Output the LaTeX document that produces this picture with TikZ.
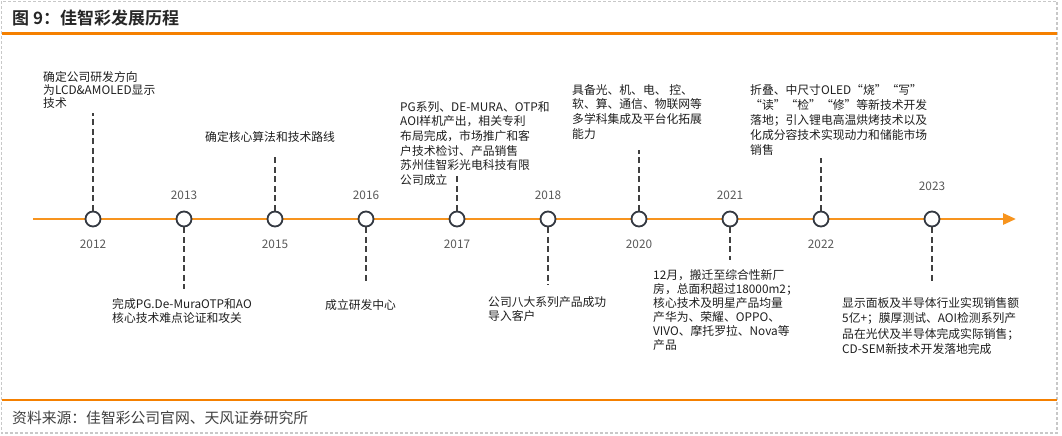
\documentclass[tikz,border=0pt]{standalone}
\usepackage{fontspec}
\setmainfont{Noto Sans CJK SC}[BoldFont=* Bold]
\usepackage{tikz}
\usetikzlibrary{positioning,arrows.meta}
\definecolor{tforange}{RGB}{245,128,0}
\definecolor{lineorange}{RGB}{247,148,30}
\definecolor{dashgray}{RGB}{64,64,64}
\definecolor{ringgray}{RGB}{52,57,66}
\definecolor{yeargray}{RGB}{89,89,89}
\definecolor{txtgray}{RGB}{30,30,30}
\definecolor{framegray}{RGB}{200,200,200}

\begin{document}
\begin{tikzpicture}[x=1pt,y=-1pt,on grid,
    milestone/.style={circle,draw=ringgray,line width=1.8pt,fill=white,minimum size=15pt,inner sep=0pt},
    yearlbl/.style={text=yeargray,font=\fontsize{11.8}{13}\selectfont,inner sep=0pt},
    event/.style={anchor=north west,align=left,inner sep=0pt,text=txtgray,font=\fontsize{11.8}{14.7}\selectfont},
    conn/.style={draw=dashgray,line width=1.8pt,dash pattern=on 6pt off 3.5pt}]
  \useasboundingbox (0,0) rectangle (1062,436);
  \draw[framegray,line width=1.2pt,dash pattern=on 3pt off 2pt] (1.5,1.5) rectangle (1057,433);

  % title and rules
  \node[anchor=west,inner sep=0pt,font=\fontsize{17}{19}\bfseries\selectfont,text=black!85] (title) at (12,18) {图 9：佳智彩发展历程};
  \draw[tforange,line width=2.7pt] (2,33.5) -- (1057,33.5);
  \draw[tforange,line width=2pt] (2,400) -- (1057,400);
  \node[anchor=west,inner sep=0pt,font=\fontsize{14.8}{16}\selectfont,text=black!75] (source) at (12,418) {资料来源：佳智彩公司官网、天风证券研究所};

  % timeline
  \coordinate (tl_start) at (33,219);
  \coordinate (tl_end) at (1016,219);
  \draw[lineorange,line width=2.8pt,-{Triangle[length=13pt,width=11pt]}] (tl_start) -- (tl_end);

  \node[milestone] (c_12) at (93,219) {};
  \node[milestone] (c_13) at (184,219) {};
  \node[milestone] (c_15) at (275,219) {};
  \node[milestone] (c_16) at (366,219) {};
  \node[milestone] (c_17) at (457,219) {};
  \node[milestone] (c_18) at (548,219) {};
  \node[milestone] (c_20) at (639,219) {};
  \node[milestone] (c_21) at (730,219) {};
  \node[milestone] (c_22) at (821,219) {};
  \node[milestone] (c_23) at (932,219) {};

  \node[yearlbl,below=25pt of c_12] (y_12) {2012};
  \node[yearlbl,above=24pt of c_13] (y_13) {2013};
  \node[yearlbl,below=25pt of c_15] (y_15) {2015};
  \node[yearlbl,above=24pt of c_16] (y_16) {2016};
  \node[yearlbl,below=25pt of c_17] (y_17) {2017};
  \node[yearlbl,above=24pt of c_18] (y_18) {2018};
  \node[yearlbl,below=25pt of c_20] (y_20) {2020};
  \node[yearlbl,above=24pt of c_21] (y_21) {2021};
  \node[yearlbl,below=25pt of c_22] (y_22) {2022};
  \node[yearlbl,above=33pt of c_23] (y_23) {2023};

  % events
  \node[event,font=\fontsize{11.8}{13}\selectfont] (t_12) at (43,71) {确定公司研发方向\\为LCD\&AMOLED显示\\技术};
  \node[event] (t_13) at (112,298) {完成PG.De-MuraOTP和AO\\核心技术难点论证和攻关};
  \node[event] (t_15) at (205,131) {确定核心算法和技术路线};
  \node[event] (t_16) at (325,299) {成立研发中心};
  \node[event] (t_17) at (400,101) {PG系列、DE-MURA、OTP和\\AOI样机产出，相关专利\\布局完成，市场推广和客\\户技术检讨、产品销售\\苏州佳智彩光电科技有限\\公司成立};
  \node[event] (t_18) at (488,296) {公司八大系列产品成功\\导入客户};
  \node[event] (t_20) at (572,84) {具备光、机、电、 控、\\软、算、通信、物联网等\\多学科集成及平台化拓展\\能力};
  \node[event,font=\fontsize{11.8}{14}\selectfont] (t_21) at (653,269) {12月，搬迁至综合性新厂\\房，总面积超过18000m2；\\核心技术及明星产品均量\\产华为、荣耀、OPPO、\\VIVO、摩托罗拉、Nova等\\产品};
  \node[event,font=\fontsize{11.8}{15}\selectfont] (t_22) at (750,84) {折叠、中尺寸OLED“烧”“写”\\“读”“检”“修”等新技术开发\\落地；引入锂电高温烘烤技术以及\\化成分容技术实现动力和储能市场\\销售};
  \node[event,font=\fontsize{11.8}{15.5}\selectfont] (t_23) at (842,297) {显示面板及半导体行业实现销售额\\5亿+；膜厚测试、AOI检测系列产\\品在光伏及半导体完成实际销售；\\CD-SEM新技术开发落地完成};

  % dashed leaders
  \coordinate (e_12) at (93,113);
  \coordinate (e_13) at (184,289);
  \coordinate (e_15) at (275,157);
  \coordinate (e_16) at (366,283);
  \coordinate (e_17) at (457,175);
  \coordinate (e_18) at (548,285);
  \coordinate (e_20) at (639,150);
  \coordinate (e_21) at (730,260);
  \coordinate (e_22) at (821,158);
  \coordinate (e_23) at (932,283);
  \path[conn]
    (c_12) edge (e_12)
    (c_13) edge (e_13)
    (c_15) edge (e_15)
    (c_16) edge (e_16)
    (c_17) edge (e_17)
    (c_18) edge (e_18)
    (c_20) edge (e_20)
    (c_21) edge (e_21)
    (c_22) edge (e_22)
    (c_23) edge (e_23)
    ;
\end{tikzpicture}
\end{document}
